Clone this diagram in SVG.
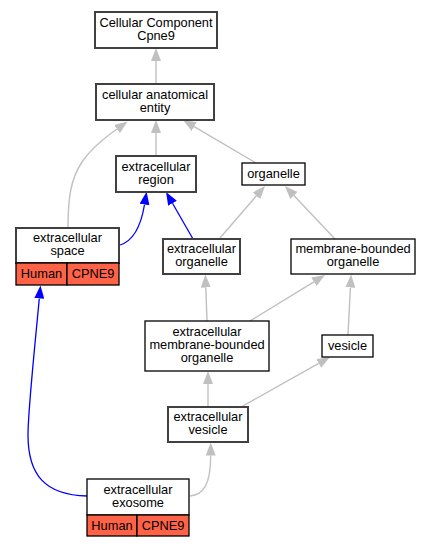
<svg xmlns="http://www.w3.org/2000/svg" width="429" height="547" viewBox="0 0 429 547">
<defs>
<style>
text{font-family:"Liberation Sans",Arial,sans-serif;font-size:12.8px;fill:#000;text-anchor:middle}
.n1{fill:#fff;stroke:#404040;stroke-width:2}
.n2{fill:#fff;stroke:#000;stroke-width:1.3}
.r{fill:#ff6347;stroke:#000;stroke-width:1.3}
.g{fill:none;stroke:#c0c0c0;stroke-width:1.4}
.b{fill:none;stroke:#0000ff;stroke-width:1.3}
.g{marker-end:url(#ag)}
.b{marker-end:url(#ab)}
</style>
<marker id="ag" viewBox="0 0 13 10" refX="0" refY="5" markerWidth="13" markerHeight="10" markerUnits="userSpaceOnUse" orient="auto"><path d="M0,0L13,5L0,10z" fill="#c0c0c0"/></marker>
<marker id="ab" viewBox="0 0 13 10" refX="0" refY="5" markerWidth="13" markerHeight="10" markerUnits="userSpaceOnUse" orient="auto"><path d="M0,0L13,5L0,10z" fill="#0000ff"/></marker>
</defs>
<rect width="429" height="547" fill="#fff"/>
<g id="edges">
<path class="g" d="M156,84L156,61"/>
<path class="g" d="M156,156L156,133"/>
<path class="g" d="M68,228C68,200 70,180 82,162C90,150 103,139 117,129"/>
<path class="g" d="M256,163L194.2,126.6"/>
<path class="b" d="M120,245C133,241 141,226 144.5,204.5"/>
<path class="b" d="M193,239L172.5,203.3"/>
<path class="g" d="M220,238L256.5,195.8"/>
<path class="g" d="M335,239L293.9,195.5"/>
<path class="g" d="M207,321L205.8,287.5"/>
<path class="g" d="M250,321L313.9,281.8"/>
<path class="g" d="M348,335L350.4,287.5"/>
<path class="g" d="M208,407L208,384"/>
<path class="g" d="M241,407L318.7,363.4"/>
<path class="g" d="M190,496C203,495 210.7,485 210.7,455.5"/>
<path class="b" d="M87,496C45,495 28,475 28,435C28,410 35,345 39.3,298.4"/>
</g>
<g id="n_cc">
<rect class="n1" x="95" y="12" width="122" height="36"/>
<text x="156" y="26.5">Cellular Component</text>
<text x="156" y="39.5">Cpne9</text>
</g>
<g id="n_cae">
<rect class="n1" x="96" y="84" width="118" height="36"/>
<text x="155" y="98.5">cellular anatomical</text>
<text x="155" y="111.5">entity</text>
</g>
<g id="n_er">
<rect class="n1" x="116" y="156" width="80" height="36"/>
<text x="156" y="170.5">extracellular</text>
<text x="156" y="183.5">region</text>
</g>
<g id="n_org">
<rect class="n2" x="242" y="163" width="63" height="22"/>
<text x="273.5" y="177.5">organelle</text>
</g>
<g id="n_es">
<rect class="n1" x="16" y="228" width="103" height="35"/>
<text x="67.5" y="242">extracellular</text>
<text x="67.5" y="255">space</text>
<rect class="r" x="16" y="263" width="51" height="22"/>
<rect class="r" x="67" y="263" width="52" height="22"/>
<text x="41.5" y="278">Human</text>
<text x="93" y="278">CPNE9</text>
</g>
<g id="n_eo">
<rect class="n1" x="163" y="239" width="77" height="35"/>
<text x="201.5" y="253">extracellular</text>
<text x="201.5" y="266">organelle</text>
</g>
<g id="n_mbo">
<rect class="n2" x="291" y="239" width="124" height="35"/>
<text x="353" y="253">membrane-bounded</text>
<text x="353" y="266">organelle</text>
</g>
<g id="n_embo">
<rect class="n2" x="145" y="321" width="124" height="50"/>
<text x="207" y="336">extracellular</text>
<text x="207" y="349">membrane-bounded</text>
<text x="207" y="362">organelle</text>
</g>
<g id="n_ves">
<rect class="n2" x="322" y="335" width="51" height="22"/>
<text x="347.5" y="349.5">vesicle</text>
</g>
<g id="n_ev">
<rect class="n1" x="168" y="407" width="80" height="35"/>
<text x="208" y="421">extracellular</text>
<text x="208" y="434">vesicle</text>
</g>
<g id="n_ex">
<rect class="n2" x="87" y="479" width="102" height="36"/>
<text x="138" y="493.5">extracellular</text>
<text x="138" y="506.5">exosome</text>
<rect class="r" x="87" y="515" width="50" height="21"/>
<rect class="r" x="137" y="515" width="52" height="21"/>
<text x="112" y="529.5">Human</text>
<text x="163" y="529.5">CPNE9</text>
</g>
</svg>
